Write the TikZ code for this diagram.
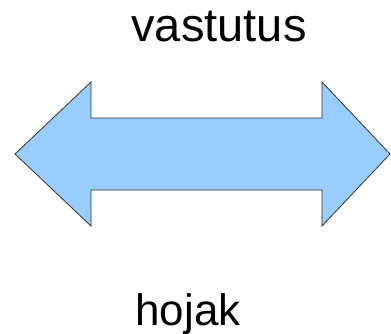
\documentclass[tikz,border=0pt]{standalone}
\usepackage{fontspec}
\setmainfont{Liberation Sans}
\usetikzlibrary{positioning}
\definecolor{arrowblue}{HTML}{99CCFF}
\definecolor{arrowline}{HTML}{333333}

\begin{document}
\begin{tikzpicture}[x=1pt,y=1pt,
    label text/.style={anchor=base, inner sep=0pt, font=\fontsize{47}{50}\selectfont}]
    \useasboundingbox (0,0) rectangle (391,-333);
    % the double arrow
    \draw [fill=arrowblue, draw=arrowline, line width=0.8pt, line join=miter]
        (15,-154) -- (91,-82) -- (91,-118) -- (322,-118) -- (322,-82)
        -- (390,-154) -- (322,-226) -- (322,-190) -- (91,-190) -- (91,-226) -- cycle;
    \node [label text] (vastutus) at (219,-41) {vastutus};
    \node [label text, font=\fontsize{44}{48}\selectfont] (hojak) at (188,-325) {hojak};
\end{tikzpicture}
\end{document}
